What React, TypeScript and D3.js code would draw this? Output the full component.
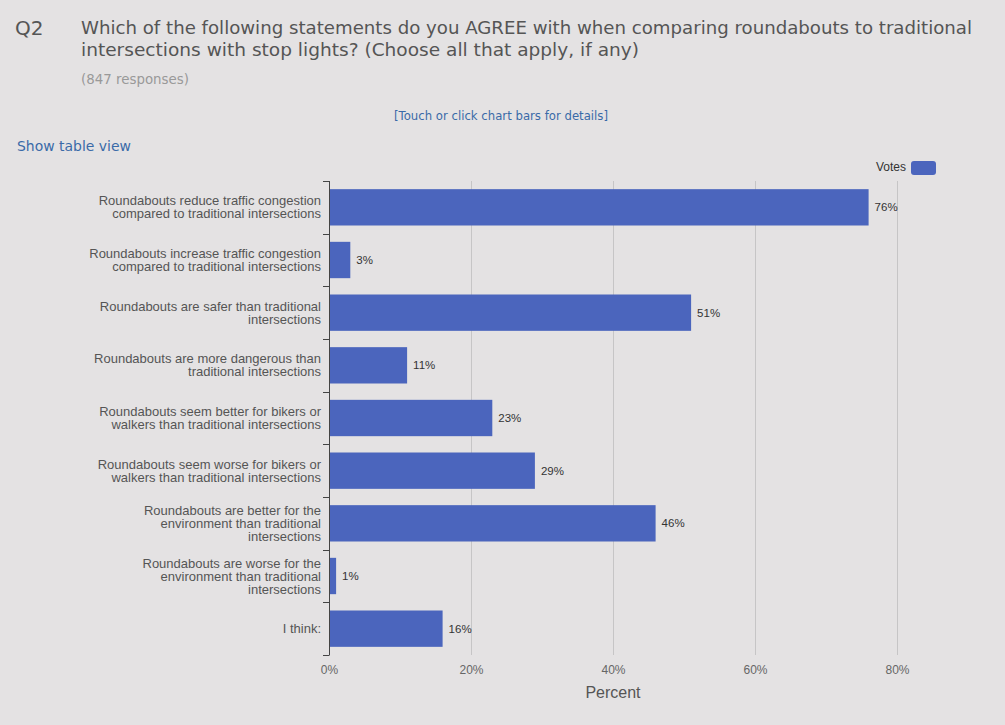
import { useEffect, useRef } from 'react';

import * as d3 from 'd3';

const width = 1005;
const height = 725;
const [mt, ml] = [181, 329];
const graphWidth = 568; // 0% → 80%
const graphHeight = 474;

const categories = [
    ['Roundabouts reduce traffic congestion', 'compared to traditional intersections'],
    ['Roundabouts increase traffic congestion', 'compared to traditional intersections'],
    ['Roundabouts are safer than traditional', 'intersections'],
    ['Roundabouts are more dangerous than', 'traditional intersections'],
    ['Roundabouts seem better for bikers or', 'walkers than traditional intersections'],
    ['Roundabouts seem worse for bikers or', 'walkers than traditional intersections'],
    ['Roundabouts are better for the', 'environment than traditional', 'intersections'],
    ['Roundabouts are worse for the', 'environment than traditional', 'intersections'],
    ['I think:']
];
const votes = [76, 3, 51, 11, 23, 29, 46, 1, 16];
const xTicks = [0, 20, 40, 60, 80];

const titleLines = [
    'Which of the following statements do you AGREE with when comparing roundabouts to traditional',
    'intersections with stop lights? (Choose all that apply, if any)'
];

const data = categories.map((lines, i) => ({ key: lines.join(' '), lines, value: votes[i] }));

const barColor = '#4b65bd';
const chartFont = '"Liberation Sans", Arial, sans-serif';
const headFont = '"DejaVu Sans", "Open Sans", sans-serif';

export default function App() {
    const ref = useRef<SVGSVGElement>(null);

    useEffect(() => {
        const svg = d3.select(ref.current);
        svg.selectAll('*').remove();

        svg.append('rect').attr('width', width).attr('height', height).attr('fill', '#e4e2e3');

        // 질문 헤더
        svg.append('text')
            .attr('x', 15)
            .attr('y', 35)
            .attr('font-family', headFont)
            .attr('font-size', 20)
            .attr('fill', '#555')
            .text('Q2');

        svg.selectAll('text.title')
            .data(titleLines)
            .enter()
            .append('text')
            .attr('class', 'title')
            .attr('x', 81)
            .attr('y', (_, i) => 34 + i * 22)
            .attr('font-family', headFont)
            .attr('font-size', 18.5)
            .attr('fill', '#555')
            .attr('textLength', (_, i) => (i === 0 ? 891 : 558))
            .attr('lengthAdjust', 'spacingAndGlyphs')
            .text((d) => d);

        svg.append('text')
            .attr('x', 81)
            .attr('y', 84)
            .attr('font-family', headFont)
            .attr('font-size', 13.5)
            .attr('fill', '#999')
            .attr('textLength', 108)
            .attr('lengthAdjust', 'spacingAndGlyphs')
            .text('(847 responses)');

        svg.append('text')
            .attr('x', 501)
            .attr('y', 120)
            .attr('text-anchor', 'middle')
            .attr('font-family', headFont)
            .attr('font-size', 11.5)
            .attr('fill', '#3a6aa8')
            .attr('textLength', 214)
            .attr('lengthAdjust', 'spacingAndGlyphs')
            .text('[Touch or click chart bars for details]');

        svg.append('text')
            .attr('x', 17)
            .attr('y', 151)
            .attr('font-family', headFont)
            .attr('font-size', 13.5)
            .attr('fill', '#3a6aa8')
            .attr('textLength', 114)
            .attr('lengthAdjust', 'spacingAndGlyphs')
            .text('Show table view');

        // 범례
        svg.append('text')
            .attr('x', 906)
            .attr('y', 171)
            .attr('text-anchor', 'end')
            .attr('font-family', chartFont)
            .attr('font-size', 12)
            .attr('fill', '#333')
            .text('Votes');
        svg.append('rect')
            .attr('x', 911)
            .attr('y', 161)
            .attr('width', 25)
            .attr('height', 14)
            .attr('rx', 3)
            .attr('fill', barColor);

        const graph = svg.append('g').attr('transform', `translate(${ml}, ${mt})`);

        const xScale = d3.scaleLinear().domain([0, 80]).range([0, graphWidth]);
        const yScale = d3
            .scaleBand()
            .domain(data.map((d) => d.key))
            .range([0, graphHeight])
            .paddingInner(0.31)
            .paddingOuter(0.155);

        const xAxis = d3
            .axisBottom(xScale)
            .tickValues(xTicks)
            .tickSize(0)
            .tickPadding(10)
            .tickFormat((d) => `${d}%`);

        graph
            .append('g')
            .attr('transform', `translate(0, ${graphHeight})`)
            .call(xAxis)
            .call((g) => g.select('.domain').remove())
            .call((g) =>
                g.selectAll('.tick text').attr('font-family', chartFont).attr('font-size', 12).attr('fill', '#666')
            );

        // 세로 grid line
        graph
            .selectAll('line.grid')
            .data(xTicks.filter((t) => t > 0))
            .enter()
            .append('line')
            .attr('class', 'grid')
            .attr('x1', (d) => Math.round(xScale(d)) + 0.5)
            .attr('x2', (d) => Math.round(xScale(d)) + 0.5)
            .attr('y1', 0)
            .attr('y2', graphHeight)
            .attr('stroke', '#c6c5c6');

        // 막대
        graph
            .selectAll('rect.bar')
            .data(data)
            .enter()
            .append('rect')
            .attr('class', 'bar')
            .attr('x', xScale(0))
            .attr('y', (d) => yScale(d.key)!)
            .attr('width', (d) => xScale(d.value) - xScale(0))
            .attr('height', yScale.bandwidth())
            .attr('fill', barColor);

        graph
            .selectAll('text.value')
            .data(data)
            .enter()
            .append('text')
            .attr('class', 'value')
            .attr('x', (d) => xScale(d.value) + 6)
            .attr('y', (d) => yScale(d.key)! + yScale.bandwidth() / 2 + 4)
            .attr('font-family', chartFont)
            .attr('font-size', 11.5)
            .attr('fill', '#333')
            .text((d) => `${d.value}%`);

        // Y축: 밴드 경계마다 tick
        const step = yScale.step();
        const edges = d3.range(data.length + 1).map((i) => i * step);
        graph
            .append('line')
            .attr('x1', 0.5)
            .attr('x2', 0.5)
            .attr('y1', 0)
            .attr('y2', graphHeight)
            .attr('stroke', '#444');
        graph
            .selectAll('line.ytick')
            .data(edges)
            .enter()
            .append('line')
            .attr('class', 'ytick')
            .attr('x1', -6)
            .attr('x2', 0.5)
            .attr('y1', (d) => Math.round(d) + 0.5)
            .attr('y2', (d) => Math.round(d) + 0.5)
            .attr('stroke', '#444');

        // 카테고리 라벨
        const labels = graph
            .selectAll('text.cat')
            .data(data)
            .enter()
            .append('text')
            .attr('class', 'cat')
            .attr('text-anchor', 'end')
            .attr('font-family', chartFont)
            .attr('font-size', 13)
            .attr('fill', '#555');
        labels
            .selectAll('tspan')
            .data((d) =>
                d.lines.map((line, j) => ({
                    line,
                    y: yScale(d.key)! + yScale.bandwidth() / 2 + (j - (d.lines.length - 1) / 2) * 13 + 4.5
                }))
            )
            .enter()
            .append('tspan')
            .attr('x', -8)
            .attr('y', (d) => d.y)
            .text((d) => d.line);

        svg.append('text')
            .attr('x', ml + xScale(40))
            .attr('y', 698)
            .attr('text-anchor', 'middle')
            .attr('font-family', chartFont)
            .attr('font-size', 16)
            .attr('fill', '#555')
            .text('Percent');
    }, []);

    return (
        <svg
            ref={ref}
            width={width}
            height={height}
            style={{ position: 'absolute', left: 0, top: 0, display: 'block' }}
        />
    );
}
